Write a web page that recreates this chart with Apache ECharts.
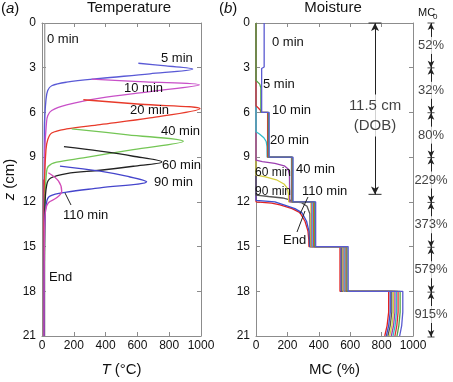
<!DOCTYPE html>
<html>
<head>
<meta charset="utf-8">
<script src="https://cdn.jsdelivr.net/npm/echarts@6/dist/echarts.min.js"></script>
<style>
  html, body { margin: 0; padding: 0; background: #fff; }
  #chart { width: 453px; height: 382px; }
</style>
</head>
<body>
<div id="chart"></div>
<script>
// ---- data: temperature profiles [T (°C), z (cm)] ----
const tempEnd = [[10, 10.5], [10, 21]]
const temp0 = [[17, 0], [17, 21]]
const temp5 = [[606, 2.7], [780, 2.88], [948, 3.08], [679, 3.41], [365, 3.72], [155, 3.97], [61, 4.21], [36, 4.53], [25, 5.15], [15, 7], [12, 21]]
const temp10 = [[312, 3.77], [650, 3.95], [990, 4.15], [679, 4.6], [365, 5.04], [155, 5.49], [61, 5.87], [36, 6.22], [28, 6.71], [16, 9], [13, 21]]
const temp20 = [[260, 5.15], [620, 5.45], [994, 5.75], [679, 6.37], [365, 6.82], [155, 7.11], [61, 7.38], [36, 7.83], [25, 8.5], [15, 11], [12, 21]]
const temp40 = [[187, 7.1], [540, 7.5], [889, 7.94], [574, 8.49], [260, 9.05], [92, 9.34], [40, 9.61], [28, 10.05], [18, 12], [14, 21]]
const temp60 = [[138, 8.3], [365, 8.6], [574, 8.94], [753, 9.32], [574, 9.61], [365, 9.88], [155, 10.1], [55, 10.4], [30, 10.84], [18, 12.5], [14, 21]]
const temp90 = [[113, 9.6], [365, 9.94], [532, 10.28], [658, 10.65], [365, 11.06], [155, 11.35], [50, 11.62], [28, 12.06], [16, 14], [13, 21]]
const temp110 = [[40, 10.05], [103, 10.6], [124, 11.28], [92, 11.73], [40, 12.06], [22, 12.6], [15, 15], [12, 21]]

// ---- data: moisture profiles [MC (%), z (cm)] ----
const mc0 = [[52, 0], [52, 2.95], [36, 3.05], [36, 6], [84, 6], [84, 9], [236, 9], [236, 12], [380, 12], [380, 15], [587, 15], [587, 18], [935, 18], [935, 19.4], [928, 20.3], [915, 21]]
const mc5 = [[0, 0], [0, 3.85], [10, 3.95], [24, 4.1], [31, 4.35], [31, 6], [79, 6], [79, 9], [232, 9], [232, 12], [374, 12], [374, 15], [580, 15], [580, 18], [918, 18], [918, 19.4], [910, 20.3], [898, 21]]
const mc10 = [[0, 0], [0, 5.55], [15, 5.7], [28, 5.85], [30, 6], [74, 6], [74, 9], [229, 9], [229, 12], [368, 12], [368, 15], [574, 15], [574, 18], [905, 18], [905, 19.4], [897, 20.3], [885, 21]]
const mc20 = [[0, 0], [0, 7.3], [22, 7.45], [50, 7.7], [65, 7.95], [70, 8.3], [71, 9], [226, 9], [226, 12], [362, 12], [362, 15], [567, 15], [567, 18], [895, 18], [895, 19.4], [886, 20.3], [873, 21]]
const mc40 = [[0, 0], [0, 9.2], [40, 9.3], [120, 9.42], [180, 9.58], [205, 9.8], [213, 10.2], [215, 12], [356, 12], [356, 15], [561, 15], [561, 18], [885, 18], [885, 19.4], [876, 20.3], [862, 21]]
const mc60 = [[0, 0], [0, 10.2], [60, 10.32], [130, 10.52], [178, 10.8], [200, 11.1], [207, 11.5], [208, 12], [350, 12], [350, 15], [555, 15], [555, 18], [875, 18], [875, 19.4], [866, 20.3], [851, 21]]
const mc90 = [[0, 0], [0, 11.55], [80, 11.64], [170, 11.74], [215, 11.86], [228, 12], [290, 12.05], [325, 12.3], [343, 12.8], [346, 15], [548, 15], [548, 18], [865, 18], [865, 19.4], [855, 20.3], [840, 21]]
const mc110 = [[0, 0], [0, 11.9], [120, 12.0], [178, 12.2], [248, 12.45], [292, 12.72], [322, 13.3], [338, 14], [342, 15], [542, 15], [542, 18], [855, 18], [855, 19.4], [845, 20.3], [830, 21]]
const mcEnd = [[0, 0], [0, 12.0], [100, 12.08], [153, 12.2], [230, 12.45], [280, 12.72], [312, 13.3], [331, 13.96], [336, 14.5], [337, 15], [535, 15], [535, 18], [845, 18], [845, 19.4], [835, 20.3], [820, 21]]

// ---- initial moisture per layer, depth of burn ----
const MC0_LAYERS = [0, 3, 6, 9, 12, 15, 18, 21]
const MC0_VALUES = ['52%', '32%', '80%', '229%', '373%', '579%', '915%']
const DOB = 11.5
const DOB_X = 758

const Z_TICKS = { min: 0, max: 21, interval: 3 }
const X_TICKS = { min: 0, max: 1000, interval: 200 }

const FONT = 'Liberation Sans, Arial, Helvetica, sans-serif'
const GRAY = '#8c8c8c'
const INK = '#111'

const TEMP_CURVES = [
  [tempEnd, '#e03a2c'], [temp0, '#9a9a9a'], [temp5, '#5a5ad6'], [temp10, '#c850c8'], [temp20, '#e83a2a'],
  [temp40, '#74c655'], [temp60, '#222222'], [temp90, '#4545cc'], [temp110, '#d24cb8'],
]
// drawn back to front so the 0 min line stays on top, as in the figure
const MC_CURVES = [
  [mcEnd, '#e22222'], [mc110, '#3b4fd0'], [mc90, '#555555'], [mc60, '#d6cf3c'], [mc40, '#9b3fb0'],
  [mc20, '#33bccb'], [mc10, '#e03030'], [mc5, '#4fa544'], [mc0, '#5a5ad0'],
]

const chart = echarts.init(document.getElementById('chart'), null, { renderer: 'canvas' })

function xAxes(grid, name) {
  const base = {
    gridIndex: grid, type: 'value', ...X_TICKS,
    axisLine: { onZero: false, lineStyle: { color: GRAY } },
    axisTick: { inside: true, length: 4, lineStyle: { color: GRAY } },
    splitLine: { show: false },
  }
  return [
    {
      ...base, position: 'bottom',
      axisLabel: { color: INK, fontSize: 12, margin: 4, fontFamily: FONT, formatter: v => String(v) },
      name, nameLocation: 'middle', nameGap: 26,
      nameTextStyle: { color: INK, fontSize: 15, fontFamily: FONT, rich: { i: { fontStyle: 'italic', fontSize: 15, fontFamily: FONT } } },
    },
    { ...base, position: 'top', axisLabel: { show: false } },
  ]
}

function yAxes(grid, name) {
  const base = {
    gridIndex: grid, type: 'value', ...Z_TICKS, inverse: true,
    axisLine: { onZero: false, lineStyle: { color: GRAY } },
    axisTick: { inside: true, length: 4, lineStyle: { color: GRAY } },
    splitLine: { show: false },
  }
  const left = {
    ...base, position: 'left',
    axisLabel: { color: INK, fontSize: 12, margin: 6, fontFamily: FONT },
  }
  if (name) {
    Object.assign(left, {
      name, nameLocation: 'middle', nameGap: 25, nameRotate: 90,
      nameTextStyle: { color: INK, fontSize: 15, fontFamily: FONT, rich: { i: { fontStyle: 'italic', fontSize: 15, fontFamily: FONT } } },
    })
  }
  return [left, { ...base, position: 'right', axisLabel: { show: false } }]
}

const series = []
TEMP_CURVES.forEach(([data, color]) => series.push({
  type: 'line', xAxisIndex: 0, yAxisIndex: 0, data, symbol: 'none', smooth: 0.35,
  lineStyle: { width: 1.3, color }, silent: true,
}))
MC_CURVES.forEach(([data, color]) => series.push({
  type: 'line', xAxisIndex: 2, yAxisIndex: 2, data, symbol: 'none',
  lineStyle: { width: 1.3, color }, silent: true,
}))

// DOB arrow and text
series.push({
  type: 'scatter', xAxisIndex: 2, yAxisIndex: 2, silent: true, z: 5,
  data: [[DOB_X, 0], [DOB_X, DOB]], symbol: 'rect', symbolSize: [13, 1.2],
  itemStyle: { color: '#222' },
  markLine: {
    silent: true, symbol: ['arrow', 'arrow'], symbolSize: [6, 8],
    lineStyle: { color: '#222', width: 1, type: 'solid' }, label: { show: false },
    data: [[{ coord: [DOB_X, 0] }, { coord: [DOB_X, DOB] }]],
  },
})
series.push({
  type: 'scatter', xAxisIndex: 2, yAxisIndex: 2, silent: true, z: 6,
  data: [[DOB_X, 6.2]], symbolSize: 0,
  label: {
    show: true, position: 'inside', formatter: DOB + ' cm\n(DOB)', color: INK,
    fontSize: 15, lineHeight: 20, fontFamily: FONT, backgroundColor: '#fff', padding: [1, 0],
  },
})

// MC0 column
series.push({
  type: 'scatter', xAxisIndex: 4, yAxisIndex: 4, silent: true, z: 5,
  data: MC0_LAYERS.map(z => [0.5, z]), symbol: 'rect', symbolSize: [7, 1],
  itemStyle: { color: '#222' },
  markLine: {
    silent: true, symbol: ['arrow', 'arrow'], symbolSize: [5, 7],
    lineStyle: { color: '#222', width: 1, type: 'solid' }, label: { show: false },
    data: MC0_VALUES.map((v, i) => [{ coord: [0.5, MC0_LAYERS[i]] }, { coord: [0.5, MC0_LAYERS[i + 1]] }]),
  },
})
series.push({
  type: 'scatter', xAxisIndex: 4, yAxisIndex: 4, silent: true, z: 6,
  data: MC0_VALUES.map((v, i) => [0.5, (MC0_LAYERS[i] + MC0_LAYERS[i + 1]) / 2, v]), symbolSize: 0,
  label: {
    show: true, position: 'inside', formatter: p => p.value[2], color: INK,
    fontSize: 13, fontFamily: FONT, backgroundColor: '#fff', padding: [2, 0],
  },
})

function txt(text, x, y, size = 13, align = 'left', extra = {}) {
  return {
    type: 'text', x, y, z: 100, silent: true,
    style: { text, fill: INK, font: `${size}px ${FONT}`, textAlign: align, textVerticalAlign: 'middle', ...extra },
  }
}
function leader(x1, y1, x2, y2) {
  return { type: 'line', z: 100, silent: true, shape: { x1, y1, x2, y2 }, style: { stroke: '#222', lineWidth: 1 } }
}

const graphic = [
  txt('({i|a})', 1, 9, 15, 'left', { rich: { i: { fontStyle: 'italic', font: `italic 15px ${FONT}` } } }),
  txt('Temperature', 129, 8, 15, 'center'),
  txt('({i|b})', 219, 9, 15, 'left', { rich: { i: { fontStyle: 'italic', font: `italic 15px ${FONT}` } } }),
  txt('Moisture', 333, 8, 15, 'center'),
  txt('MC', 418, 13, 11),
  txt('0', 433, 17, 8),
  // left panel
  txt('0 min', 47, 39), txt('5 min', 161, 58), txt('10 min', 124, 88), txt('20 min', 130, 110),
  txt('40 min', 161, 131), txt('60 min', 162, 165), txt('90 min', 154, 182), txt('110 min', 63, 215),
  txt('End', 49, 277),
  leader(65, 193, 71, 205),
  // right panel
  txt('0 min', 272, 42), txt('5 min', 263, 84), txt('10 min', 272, 110), txt('20 min', 270, 140),
  txt('40 min', 296, 169), txt('60 min', 255, 173, 12), txt('90 min', 255, 192, 12), txt('110 min', 302, 191),
  txt('End', 283, 240),
  leader(308, 197, 300, 214),
  leader(297, 232, 305, 211),
]

chart.setOption({
  animation: false,
  textStyle: { fontFamily: FONT },
  grid: [
    { left: 42, top: 23, width: 159, height: 314 },
    { left: 256, top: 23, width: 157, height: 314 },
    { left: 421, top: 23, width: 20, height: 314 },
  ],
  xAxis: [
    ...xAxes(0, '{i|T} (°C)'),
    ...xAxes(1, 'MC (%)'),
    { gridIndex: 2, type: 'value', min: 0, max: 1, show: false },
  ],
  yAxis: [
    ...yAxes(0, '{i|z} (cm)'),
    ...yAxes(1, null),
    { gridIndex: 2, type: 'value', min: 0, max: 21, inverse: true, show: false },
  ],
  graphic,
  series,
})
</script>
</body>
</html>
